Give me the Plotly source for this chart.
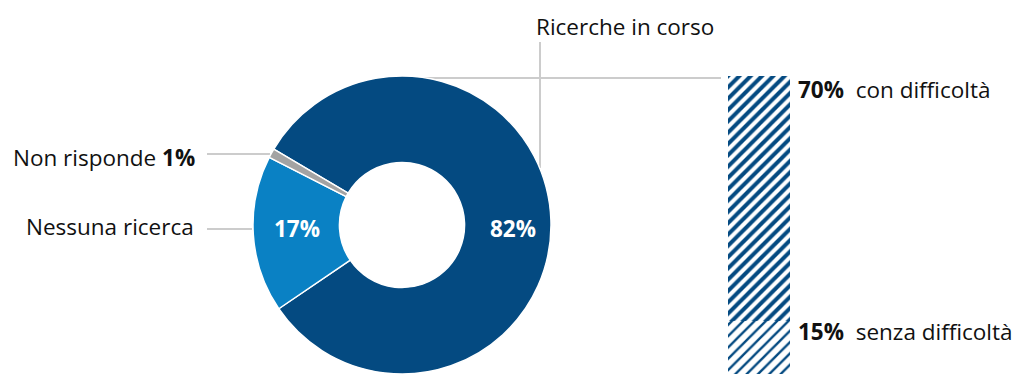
import plotly.graph_objects as go

W, H = 1019, 374

pie_labels = ["Ricerche in corso", "Nessuna ricerca", "Non risponde"]
pie_values = [82, 17, 1]
pie_colors = ["#044a81", "#0a81c4", "#a3a3a3"]

bar_labels = ["senza difficoltà", "con difficoltà"]
bar_values = [15, 70]
bar_solidity = [0.3, 0.5]

FONT = "Open Sans"
FS = 22.5
DARK = "#044a81"
LINE = "#cccccc"

def px(x):
    return x / W

def py(y):
    return 1 - y / H

fig = go.Figure()

# donut
cx, cy, r = 402, 225, 149
fig.add_trace(go.Pie(
    labels=pie_labels, values=pie_values,
    hole=0.42, sort=False, direction="clockwise", rotation=-59.4,
    marker=dict(colors=pie_colors, line=dict(color="white", width=1.5)),
    textinfo="none", showlegend=False,
    domain=dict(x=[px(cx - r), px(cx + r)], y=[py(cy + r), py(cy - r)]),
))

# stacked bar
for lab, val, sol in zip(bar_labels, bar_values, bar_solidity):
    fig.add_trace(go.Bar(
        x=["b"], y=[val], name=lab, width=1, showlegend=False,
        marker=dict(color="white", line=dict(width=0),
                    pattern=dict(shape="/", fgcolor=DARK, bgcolor="white", fgopacity=1,
                                 size=8, solidity=sol, fillmode="replace")),
        xaxis="x", yaxis="y",
    ))

total = sum(bar_values)
fig.update_layout(
    width=W, height=H,
    margin=dict(l=0, r=0, t=0, b=0),
    paper_bgcolor="white", plot_bgcolor="rgba(0,0,0,0)",
    barmode="stack", bargap=0,
    xaxis=dict(domain=[px(728), px(790)], range=[-0.5, 0.5], visible=False, fixedrange=True),
    yaxis=dict(domain=[py(374), py(76)], range=[0, total], visible=False, fixedrange=True),
    font=dict(family=FONT, color="#111111", size=FS),
)

# connector lines
lines = [
    (402, 78, 721, 78),
    (540, 42, 540, 168),
    (207, 154, 270, 154),
    (207, 229, 252, 229),
]
for x0, y0, x1, y1 in lines:
    fig.add_shape(type="line", xref="paper", yref="paper",
                  x0=px(x0), y0=py(y0), x1=px(x1), y1=py(y1),
                  line=dict(color=LINE, width=2), layer="below")

ann = []
ann.append(dict(x=px(534), y=py(27), xanchor="left", yanchor="middle",
                text=pie_labels[0]))
ann.append(dict(x=px(197), y=py(157), xanchor="right", yanchor="middle",
                text=f"{pie_labels[2]} <b>{pie_values[2]}%</b>"))
ann.append(dict(x=px(196), y=py(226), xanchor="right", yanchor="middle",
                text=pie_labels[1]))
ann.append(dict(x=px(513), y=py(228), xanchor="center", yanchor="middle",
                text=f"<b>{pie_values[0]}%</b>", font=dict(color="white", size=FS, family=FONT)))
ann.append(dict(x=px(297), y=py(228), xanchor="center", yanchor="middle",
                text=f"<b>{pie_values[1]}%</b>", font=dict(color="white", size=FS, family=FONT)))
ann.append(dict(x=px(796), y=py(89), xanchor="left", yanchor="middle",
                text=f"<b>{bar_values[1]}%</b>  {bar_labels[1]}"))
ann.append(dict(x=px(796), y=py(331), xanchor="left", yanchor="middle",
                text=f"<b>{bar_values[0]}%</b>  {bar_labels[0]}"))

for a in ann:
    a.update(xref="paper", yref="paper", showarrow=False)
    fig.add_annotation(**a)

fig.write_html("out.html", config={"displayModeBar": False},
               post_script="document.body.style.margin='0';document.body.style.overflow='hidden';")
